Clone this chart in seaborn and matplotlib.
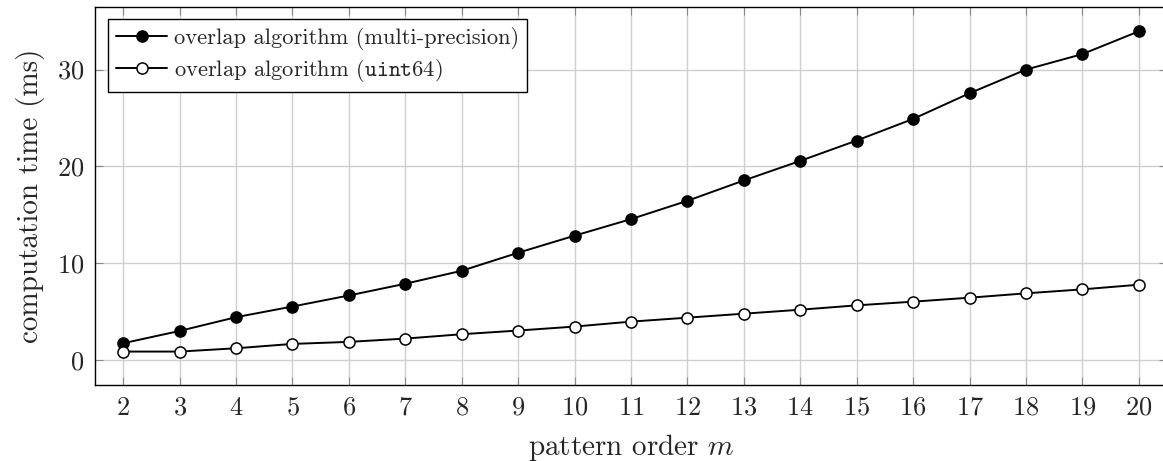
import matplotlib
matplotlib.use("Agg")
import matplotlib.pyplot as plt
import seaborn as sns
import pandas as pd

# pattern order m
orders = list(range(2, 21))
# computation time in ms
multi_precision_ms = [1.76, 3.03, 4.45, 5.55, 6.69, 7.90, 9.24, 11.10, 12.86, 14.57,
                      16.46, 18.56, 20.58, 22.68, 24.91, 27.56, 30.00, 31.60, 33.95]
uint64_ms = [0.90, 0.90, 1.24, 1.69, 1.90, 2.24, 2.69, 3.07, 3.48, 3.99,
             4.40, 4.81, 5.22, 5.67, 6.05, 6.46, 6.91, 7.32, 7.80]
y_ticks = [0, 10, 20, 30]

label_mp = "overlap algorithm (multi-precision)"
label_u64 = r"overlap algorithm ($\mathtt{uint64}$)"

sns.set_theme(style="white")
plt.rcParams["font.family"] = ["cmr10"]
plt.rcParams["mathtext.fontset"] = "cm"
plt.rcParams["axes.formatter.use_mathtext"] = True
plt.rcParams["axes.unicode_minus"] = False

df = pd.DataFrame({"m": orders, "mp": multi_precision_ms, "u64": uint64_ms})

fig = plt.figure(figsize=(11.63, 4.61), dpi=100)
ax = fig.add_axes([95 / 1163, 1 - 385 / 461, (1167 - 95) / 1163, (385 - 7.3) / 461])

line_kw = dict(color="black", linewidth=1.4, markersize=8, markeredgewidth=1.1,
               markeredgecolor="black", zorder=3)
sns.lineplot(data=df, x="m", y="mp", ax=ax, marker="o", markerfacecolor="black",
             label=label_mp, **line_kw)
sns.lineplot(data=df, x="m", y="u64", ax=ax, marker="o", markerfacecolor="white",
             label=label_u64, **line_kw)

ax.set_xlim(1.5, 20.5)
ax.set_ylim(-2.55, 36.43)
ax.set_xticks(orders)
ax.set_yticks(y_ticks)
ax.grid(True, color="#cfcfcf", linewidth=1.0, zorder=0)
ax.set_axisbelow(True)
for s in ax.spines.values():
    s.set_color("black")
    s.set_linewidth(1.0)
ax.tick_params(direction="in", length=6, width=0.8, color="#8a8a8a",
               top=True, right=True, bottom=True, left=True,
               labelsize=19, pad=8)

ax.set_xlabel(r"pattern order $m$", fontsize=21, labelpad=8.5)
ax.set_ylabel("computation time (ms)", fontsize=21, labelpad=8)

leg = ax.legend(loc="upper left", bbox_to_anchor=(0.012, 0.968), fontsize=16.2,
                frameon=True, fancybox=False, edgecolor="black", framealpha=1,
                handlelength=2.3, handletextpad=0.3, borderpad=0.35,
                labelspacing=0.3, borderaxespad=0)
leg.get_frame().set_linewidth(1.0)

fig.savefig("out.png", dpi=100)
